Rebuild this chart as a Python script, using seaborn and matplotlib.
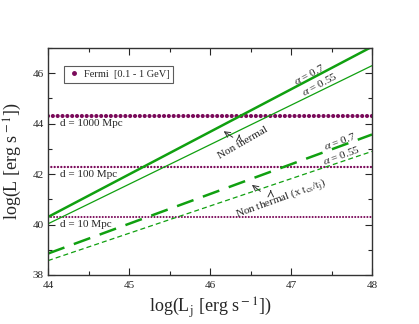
import numpy as np
import pandas as pd
import matplotlib
matplotlib.use("Agg")
import matplotlib.pyplot as plt
import seaborn as sns

# jet luminosity range and model lines (log units)
lj = [44, 48]
therm_a07 = [40.3, 47.05]
therm_a055 = [40.03, 46.3]
nonth_a07 = [38.85, 43.57]
nonth_a055 = [38.57, 42.9]

# Fermi sensitivity levels for distances
dist_labels = ["d = 1000 Mpc", "d = 100 Mpc", "d = 10 Mpc"]
fermi_levels = [44.3, 42.3, 40.3]

sns.set_style("ticks")
plt.rcParams['font.family'] = ['Liberation Serif', 'DejaVu Serif']
plt.rcParams['mathtext.fontset'] = 'stix'

fig = plt.figure(figsize=(4.19, 3.24), dpi=100)
ax = fig.add_axes([48/419, 1 - 275/324, 324/419, 227/324])

green = '#10a010'
maroon = '#7a0a5a'

xs = np.linspace(44, 48, 120)
for lev, w, gap in zip(fermi_levels, [3.0, 1.7, 1.5], [1.15, 1.4, 1.45]):
    df = pd.DataFrame({'x': xs, 'y': np.full_like(xs, lev)})
    sns.lineplot(data=df, x='x', y='y', ax=ax, color=maroon, lw=w,
                 linestyle=(0, (0.01, gap)), dash_capstyle='round')

# legend marker
ax.plot([], [], 'o', color=maroon, ms=2.5, label='Fermi  [0.1 - 1 GeV]')

sns.lineplot(x=lj, y=therm_a07, ax=ax, color=green, lw=1.8)
sns.lineplot(x=lj, y=therm_a055, ax=ax, color=green, lw=0.9)
sns.lineplot(x=lj, y=nonth_a07, ax=ax, color=green, lw=1.8,
             linestyle=(0, (7, 4)))
sns.lineplot(x=lj, y=nonth_a055, ax=ax, color=green, lw=0.9,
             linestyle=(0, (4, 2.5)))

ax.set_xlim(44, 48)
ax.set_ylim(38, 47)
ax.set_xticks([44, 45, 46, 47, 48])
ax.set_xticks([44.5, 45.5, 46.5, 47.5], minor=True)
ax.set_yticks([38, 40, 42, 44, 46])
ax.set_yticks([39, 41, 43, 45, 47], minor=True)
ax.tick_params(which='both', direction='in', top=True, right=True,
               labelsize=8, width=0.8)
ax.tick_params(which='major', length=5)
ax.tick_params(which='minor', length=3)
ax.tick_params(axis='y', pad=3)
ax.tick_params(axis='x', pad=4)
for s in ax.spines.values():
    s.set_linewidth(1.0)
    s.set_color('#333333')

ax.set_xlabel('log(L$_{\\rm j}$ [erg s$^{\\rm -1}$])', fontsize=13, labelpad=4)
ax.set_ylabel('log(L [erg s$^{\\rm -1}$])', fontsize=13, labelpad=6)

for lab, lev in zip(dist_labels, fermi_levels):
    ax.text(44.15, lev - 0.3, lab, fontsize=8, va='center', ha='left')

ax.text(47.22, 45.96, r'$\alpha$ = 0.7', fontsize=8, rotation=28, ha='center', va='center')
ax.text(47.35, 45.56, r'$\alpha$ = 0.55', fontsize=8, rotation=28, ha='center', va='center')
ax.text(47.6, 43.3, r'$\alpha$ = 0.7', fontsize=8, rotation=20, ha='center', va='center')
ax.text(47.62, 42.74, r'$\alpha$ = 0.55', fontsize=8, rotation=20, ha='center', va='center')

ax.text(46.41, 43.25, 'Non thermal', fontsize=8, rotation=30, ha='center', va='center')
ax.annotate('', xy=(46.14, 43.76), xytext=(46.31, 43.40),
            arrowprops=dict(arrowstyle='->', lw=0.7, color='#333333'))
ax.annotate('', xy=(46.36, 43.67), xytext=(46.36, 43.43),
            arrowprops=dict(arrowstyle='->', lw=0.7, color='#333333'))

ax.text(46.88, 41.0, 'Non thermal (x t$_{\\rm cs}$/t$_{\\rm j}$)', fontsize=8, rotation=20,
        ha='center', va='center')
ax.annotate('', xy=(46.49, 41.64), xytext=(46.65, 41.25),
            arrowprops=dict(arrowstyle='->', lw=0.7, color='#333333'))
ax.annotate('', xy=(46.75, 41.47), xytext=(46.75, 41.22),
            arrowprops=dict(arrowstyle='->', lw=0.7, color='#333333'))

leg = ax.legend(loc='upper left', bbox_to_anchor=(0.049, 0.92), fontsize=7.5,
                frameon=True, fancybox=False, edgecolor='#333333',
                handletextpad=0.4, borderpad=0.35, handlelength=1.2,
                borderaxespad=0)
leg.get_frame().set_linewidth(0.8)

fig.savefig('out.png', dpi=100)
